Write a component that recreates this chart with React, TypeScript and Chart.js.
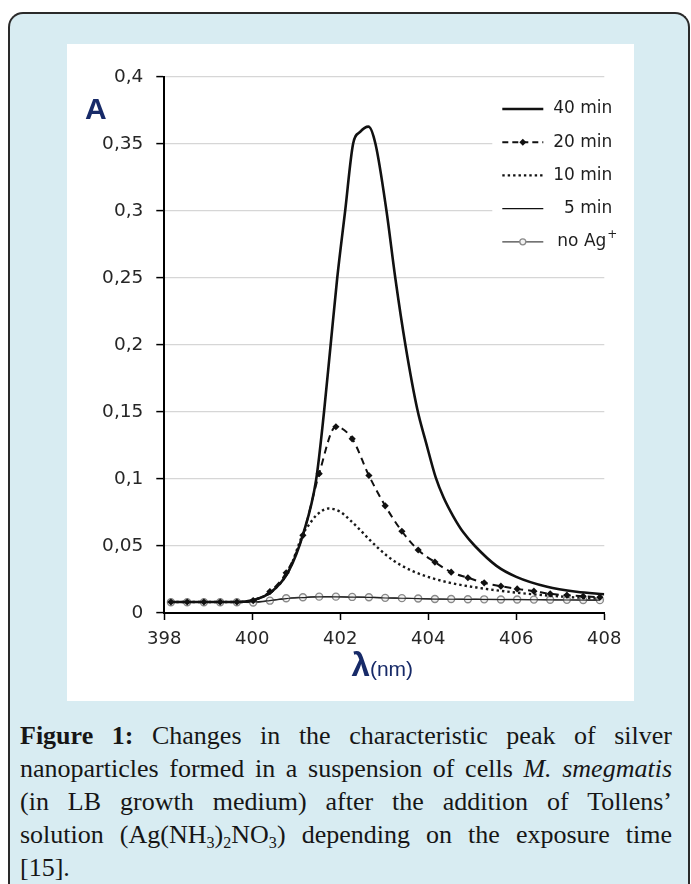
import React, { useEffect, useRef } from "react";
import { Chart, registerables } from "chart.js";

Chart.register(...registerables);

// ---------------- data ----------------
const X_TICKS = [398, 400, 402, 404, 406, 408];
const Y_TICKS = [0, 0.05, 0.1, 0.15, 0.2, 0.25, 0.3, 0.35, 0.4];
const LEGEND_LABELS = ["40 min", "20 min", "10 min", "5 min", "no Ag"];

// wavelengths at which the marker series were sampled
const MARKER_X = [
  398.15, 398.52, 398.9, 399.27, 399.65, 400.02, 400.4, 400.77, 401.15, 401.52,
  401.9, 402.27, 402.65, 403.02, 403.4, 403.77, 404.15, 404.52, 404.9, 405.27,
  405.65, 406.02, 406.4, 406.77, 407.15, 407.52, 407.9,
];
const A_20MIN = [
  0.0082, 0.0082, 0.0082, 0.0082, 0.0082, 0.0093, 0.016, 0.03, 0.058, 0.104,
  0.139, 0.13, 0.1026, 0.08, 0.061, 0.047, 0.038, 0.0305, 0.0263, 0.0225,
  0.02, 0.018, 0.0163, 0.0143, 0.0133, 0.0125, 0.0118,
];
const A_NOAG = [
  0.008, 0.008, 0.008, 0.008, 0.008, 0.0078, 0.0092, 0.011, 0.0117, 0.0122,
  0.0122, 0.012, 0.0118, 0.0113, 0.0111, 0.0108, 0.0105, 0.0104, 0.0103, 0.0102,
  0.0101, 0.0101, 0.01, 0.0099, 0.0098, 0.0097, 0.0096,
];

const X_40MIN = [
  398.15, 398.52, 398.9, 399.27, 399.65, 400.0, 400.44, 400.82, 401.16, 401.45,
  401.63, 401.78, 401.93, 402.11, 402.29, 402.45, 402.64, 402.8, 403.05, 403.25,
  403.48, 403.75, 403.95, 404.17, 404.35, 404.57, 404.8, 405.06, 405.55, 406.0,
  406.7, 407.37, 408.0,
];
const A_40MIN = [
  0.0082, 0.0082, 0.0082, 0.0082, 0.0082, 0.0095, 0.0159, 0.0308, 0.0595, 0.0993,
  0.15, 0.2, 0.25, 0.3, 0.35, 0.359, 0.363, 0.35, 0.3, 0.25,
  0.2, 0.152, 0.127, 0.101, 0.086, 0.072, 0.06, 0.05, 0.0352, 0.027,
  0.0196, 0.0159, 0.014,
];

const X_10MIN = [
  398.15, 398.52, 398.9, 399.27, 399.65, 400.0, 400.44, 400.82, 401.16, 401.27,
  401.46, 401.73, 402.0, 402.22, 402.45, 402.67, 403.05, 403.36, 403.66, 404.04,
  404.5, 405.1, 406.0, 407.07, 408.0,
];
const A_10MIN = [
  0.0082, 0.0082, 0.0082, 0.0082, 0.0082, 0.0095, 0.016, 0.031, 0.0595, 0.065,
  0.073, 0.078, 0.0755, 0.0694, 0.062, 0.0545, 0.043, 0.036, 0.031, 0.0265,
  0.0225, 0.019, 0.0152, 0.0122, 0.0105,
];

const X_5MIN = [
  398.15, 399.0, 399.65, 400.02, 400.4, 400.77, 401.15, 401.52, 401.9, 402.27,
  402.65, 403.02, 403.4, 403.77, 404.15, 404.9, 405.65, 406.4, 407.15, 407.9,
];
const A_5MIN = [
  0.0081, 0.0081, 0.0081, 0.0082, 0.0093, 0.0108, 0.0115, 0.012, 0.012, 0.0118,
  0.0116, 0.0112, 0.011, 0.0107, 0.0104, 0.0102, 0.01, 0.0099, 0.0097, 0.0096,
];

// ---------------- styles ----------------
const NAVY = "#172a68";
const TICK_FONT = "'DejaVu Sans', 'Liberation Sans', sans-serif";
const BOLD_FONT = "'Liberation Sans', Arial, sans-serif";

const pts = (xs: number[], ys: number[]) => xs.map((x, i) => ({ x, y: ys[i] }));

const fmt = (v: number) => String(Math.round(v * 100) / 100).replace(".", ",");

function drawDiamond(ctx: CanvasRenderingContext2D, x: number, y: number, r: number) {
  ctx.beginPath();
  ctx.moveTo(x, y - r);
  ctx.lineTo(x + r, y);
  ctx.lineTo(x, y + r);
  ctx.lineTo(x - r, y);
  ctx.closePath();
  ctx.fill();
}

const decorPlugin = {
  id: "decor",
  beforeDatasetsDraw(chart: any) {
    const { ctx, chartArea } = chart;
    ctx.save();
    ctx.fillStyle = "#ffffff";
    ctx.fillRect(chartArea.right - 112, chartArea.top + 13, 120, 172);
    ctx.restore();
  },
  afterDraw(chart: any) {
    const { ctx, chartArea } = chart;
    ctx.save();
    // ---- legend ----
    const x0 = chartArea.right - 102;
    const x1 = chartArea.right - 61;
    const tx = chartArea.right + 8;
    ctx.font = `17px ${TICK_FONT}`;
    ctx.fillStyle = "#1e1e1e";
    ctx.textBaseline = "middle";
    LEGEND_LABELS.forEach((label, i) => {
      const y = chartArea.top + 32 + i * 33.2;
      ctx.strokeStyle = "#111";
      ctx.setLineDash([]);
      ctx.lineCap = "butt";
      if (i === 0) {
        ctx.lineWidth = 2.6;
      } else if (i === 1) {
        ctx.lineWidth = 2;
        ctx.setLineDash([6, 4]);
      } else if (i === 2) {
        ctx.lineWidth = 2.4;
        ctx.setLineDash([2.4, 3]);
      } else if (i === 3) {
        ctx.lineWidth = 1.2;
      } else {
        ctx.lineWidth = 1.3;
        ctx.strokeStyle = "#444";
      }
      ctx.beginPath();
      ctx.moveTo(x0, y);
      ctx.lineTo(x1, y);
      ctx.stroke();
      ctx.setLineDash([]);
      const mx = (x0 + x1) / 2;
      if (i === 1) {
        ctx.fillStyle = "#111";
        drawDiamond(ctx, mx, y, 3.5);
      } else if (i === 4) {
        ctx.beginPath();
        ctx.arc(mx, y, 3, 0, Math.PI * 2);
        ctx.fillStyle = "#f2f2f2";
        ctx.fill();
        ctx.lineWidth = 1.3;
        ctx.strokeStyle = "#8a8a8a";
        ctx.stroke();
      }
      ctx.fillStyle = "#1e1e1e";
      ctx.font = `17px ${TICK_FONT}`;
      if (i === 4) {
        ctx.textAlign = "right";
        ctx.fillText(label, tx - 6, y);
        ctx.textAlign = "left";
        ctx.font = `12px ${TICK_FONT}`;
        ctx.fillText("+", tx - 5, y - 7);
      } else {
        ctx.textAlign = "right";
        ctx.fillText(label, tx, y);
      }
    });

    // ---- axis titles ----
    ctx.fillStyle = NAVY;
    ctx.textBaseline = "alphabetic";
    ctx.textAlign = "left";
    ctx.font = `bold 30px ${BOLD_FONT}`;
    ctx.fillText("A", 18, chartArea.top + 41.5);

    const lam = "λ";
    const nm = "(nm)";
    ctx.font = `bold 33px ${BOLD_FONT}`;
    const wl = ctx.measureText(lam).width;
    ctx.font = `21px ${BOLD_FONT}`;
    const wn = ctx.measureText(nm).width;
    const cx = (chartArea.left + chartArea.right) / 2 - 2;
    const startX = cx - (wl + wn) / 2;
    const baseY = chartArea.bottom + 63;
    ctx.font = `bold 33px ${BOLD_FONT}`;
    ctx.fillText(lam, startX, baseY);
    ctx.font = `21px ${BOLD_FONT}`;
    ctx.fillText(nm, startX + wl, baseY);
    ctx.restore();
  },
};

export default function App() {
  const canvasRef = useRef<HTMLCanvasElement>(null);

  useEffect(() => {
    const canvas = canvasRef.current;
    if (!canvas) return;
    const chart = new Chart(canvas, {
      type: "line",
      data: {
        datasets: [
          {
            label: LEGEND_LABELS[0],
            data: pts(X_40MIN, A_40MIN),
            borderColor: "#111",
            borderWidth: 2.6,
            pointRadius: 0,
            cubicInterpolationMode: "monotone",
          },
          {
            label: LEGEND_LABELS[1],
            data: pts(MARKER_X, A_20MIN),
            borderColor: "#111",
            borderWidth: 2,
            borderDash: [7, 5],
            pointStyle: "rectRot",
            pointRadius: 3.6,
            pointBackgroundColor: "#111",
            pointBorderColor: "#111",
            pointBorderWidth: 0,
            cubicInterpolationMode: "monotone",
          },
          {
            label: LEGEND_LABELS[2],
            data: pts(X_10MIN, A_10MIN),
            borderColor: "#1a1a1a",
            borderWidth: 2.4,
            borderDash: [2.4, 3],
            pointRadius: 0,
            cubicInterpolationMode: "monotone",
          },
          {
            label: LEGEND_LABELS[3],
            data: pts(X_5MIN, A_5MIN),
            borderColor: "#222",
            borderWidth: 1.2,
            pointRadius: 0,
            cubicInterpolationMode: "monotone",
          },
          {
            label: "no Ag+",
            data: pts(MARKER_X, A_NOAG),
            borderColor: "#444",
            borderWidth: 1.3,
            pointStyle: "circle",
            pointRadius: 3.5,
            pointBackgroundColor: "#f2f2f2",
            pointBorderColor: "#8a8a8a",
            pointBorderWidth: 1.4,
            cubicInterpolationMode: "monotone",
          },
        ],
      },
      options: {
        responsive: false,
        animation: false,
        devicePixelRatio: 1,
        layout: { padding: { left: 0, top: 33, right: 29.7, bottom: 0 } },
        plugins: { legend: { display: false }, tooltip: { enabled: false } },
        scales: {
          x: {
            type: "linear",
            min: 398,
            max: 408,
            afterBuildTicks: (axis: any) => {
              axis.ticks = X_TICKS.map((v) => ({ value: v }));
            },
            afterFit: (axis: any) => {
              axis.height = 88;
            },
            ticks: {
              font: { family: TICK_FONT, size: 18 },
              color: "#262626",
              padding: 9,
              maxRotation: 0,
              callback: (v: any) => String(v),
            },
            grid: {
              drawOnChartArea: false,
              drawTicks: true,
              tickLength: 7,
              tickColor: "#000",
              tickWidth: 1.5,
            },
            border: { color: "#000", width: 2 },
          },
          y: {
            type: "linear",
            min: 0,
            max: 0.4,
            afterBuildTicks: (axis: any) => {
              axis.ticks = Y_TICKS.map((v) => ({ value: v }));
            },
            afterFit: (axis: any) => {
              axis.width = 97.3;
            },
            ticks: {
              font: { family: TICK_FONT, size: 18.5 },
              color: "#262626",
              padding: 13,
              callback: (v: any) => fmt(Number(v)),
            },
            grid: {
              color: "#d6d6d6",
              lineWidth: 1.2,
              tickLength: 8,
              tickColor: "#000",
              tickWidth: 1.5,
            },
            border: { color: "#000", width: 2 },
          },
        },
      },
      plugins: [decorPlugin],
    } as any);
    return () => chart.destroy();
  }, []);

  const lineStyle: React.CSSProperties = {
    height: 33,
    lineHeight: "33px",
    textAlign: "justify",
    textAlignLast: "justify" as any,
  };
  const subStyle: React.CSSProperties = {
    fontSize: "0.62em",
    lineHeight: 0,
    verticalAlign: "-0.3em",
  };

  return (
    <div
      style={{
        position: "absolute",
        left: 8,
        top: 12,
        width: 682,
        height: 872,
        boxSizing: "border-box",
        border: "2px solid #2a2a2a",
        borderBottom: "none",
        borderRadius: "15px 15px 0 0",
        background: "#d8ecf2",
        overflow: "hidden",
      }}
    >
      <div
        style={{
          position: "absolute",
          left: 67 - 10,
          top: 44 - 14,
          width: 567,
          height: 657,
          background: "#ffffff",
        }}
      >
        <canvas ref={canvasRef} width={567} height={657} style={{ display: "block" }} />
      </div>
      <div
        style={{
          position: "absolute",
          left: 20 - 10,
          top: 719 - 14,
          width: 652,
          fontFamily: "'Liberation Serif', 'Times New Roman', serif",
          fontSize: 26,
          color: "#161616",
        }}
      >
        <div style={lineStyle}>
          <b>Figure 1:</b> Changes in the characteristic peak of silver
        </div>
        <div style={lineStyle}>
          nanoparticles formed in a suspension of cells <i>M. smegmatis</i>
        </div>
        <div style={lineStyle}>(in LB growth medium) after the addition of Tollens’</div>
        <div style={lineStyle}>
          solution (Ag(NH<sub style={subStyle}>3</sub>)<sub style={subStyle}>2</sub>NO
          <sub style={subStyle}>3</sub>) depending on the exposure time
        </div>
        <div style={{ height: 33, lineHeight: "33px" }}>[15].</div>
      </div>
    </div>
  );
}
